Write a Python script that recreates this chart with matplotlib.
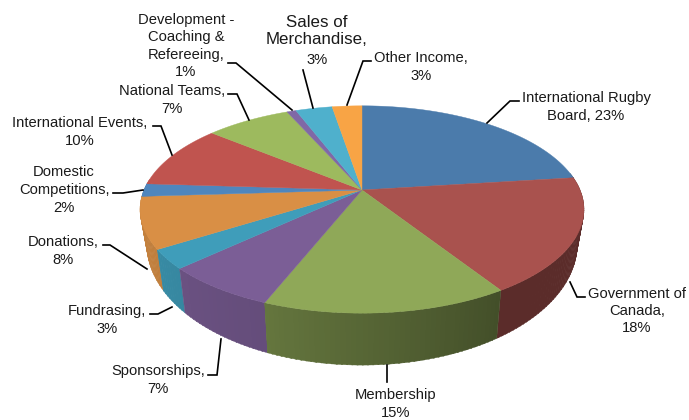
import numpy as np
import matplotlib
matplotlib.use('Agg')
import matplotlib.pyplot as plt
from matplotlib.patches import Polygon

plt.rcParams['font.family'] = ['Liberation Sans', 'DejaVu Sans']

categories = ['International Rugby\nBoard', 'Government of\nCanada', 'Membership', 'Sponsorships',
              'Fundrasing', 'Donations', 'Domestic\nCompetitions', 'International Events',
              'National Teams', 'Development -\nCoaching &\nRefereeing', 'Sales of\nMerchandise',
              'Other Income']
values = [23, 18, 15, 7, 3, 8, 2, 10, 7.4, 0.8, 3.2, 2.6]
colors = ['#4b7bab', '#a9524e', '#8fa858', '#7b5e96', '#3f9dba', '#d98f45',
          '#4f86bd', '#c0544f', '#9dba5e', '#8068a6', '#4fb0cc', '#f8a445']

# pixel positions of label centres
label_pos = [(586, 107), (637, 311), (396, 404), (158, 380), (107, 320), (63, 251),
             (64, 190), (80, 132), (172, 100), (186, 46), (317, 31), (421, 67)]
# leader lines
leaders = [[(487, 123), (510, 101), (519, 101)],
           [(570, 282), (577, 297), (585, 297)],
           [(387, 365), (387, 382)],
           [(221, 339), (217, 375), (208, 375)],
           [(172, 307), (158, 314), (150, 314)],
           [(147, 269), (110, 245), (103, 245)],
           [(143, 190), (123, 193), (113, 193)],
           [(172, 155), (161, 126), (153, 126)],
           [(249, 120), (237, 94), (228, 94)],
           [(292, 110), (236, 63), (228, 63)],
           [(313, 108), (303, 70)],
           [(347, 105), (363, 61), (371, 61)]]

cx, cy = 362, 190
a, b, k = 218, 100, 0.188


# circle seen in perspective, so the centre sits above the middle of the ellipse
def rim(t):
    u, v = np.sin(t), -np.cos(t)
    d = 1 - k * v
    return a * u / d, b * v / d


def top_xy(t):
    x, y = rim(t)
    return cx + x, cy + y


def low_xy(t):
    x, y = rim(t)
    return cx + 0.97 * x, cy + 1.17 * y + 31


fig = plt.figure(figsize=(6.89, 4.2), dpi=100)
ax = fig.add_axes([0, 0, 1, 1])
ax.set_xlim(0, 689)
ax.set_ylim(420, 0)
ax.axis('off')

edges = np.cumsum([0] + values) / sum(values) * 2 * np.pi

# side of the pie, back to front, darker on the right
strips = []
for i in range(len(values)):
    ts = np.arange(edges[i], edges[i + 1] + 0.01, 0.02)
    for t0 in ts:
        t1 = min(t0 + 0.025, edges[i + 1])
        if t0 < 1.4 or t0 > 4.8 or t0 >= t1:
            continue
        strips.append((-np.cos(t0), t0, t1, i))
strips.sort()
for _, t0, t1, i in strips:
    if i == 1:
        shade = 0.54
    elif i == 2:
        shade = 0.47 + 0.25 * (t0 - 2.57)
    else:
        shade = 0.82 + 0.1 * (t0 - 3.52)
    col = np.array(matplotlib.colors.to_rgb(colors[i])) * shade
    x0, y0 = top_xy(t0)
    x1, y1 = top_xy(t1)
    x2, y2 = low_xy(t1)
    x3, y3 = low_xy(t0)
    ax.add_patch(Polygon([(x0, y0), (x1, y1), (x2, y2), (x3, y3)], fc=col, ec=col, lw=0.3))

# top face
for i in range(len(values)):
    t = np.linspace(edges[i], edges[i + 1], 80)
    x, y = top_xy(t)
    pts = [(cx, cy)] + list(zip(x, y))
    ax.add_patch(Polygon(pts, fc=colors[i], ec=colors[i], lw=0.3))

for i, name in enumerate(categories):
    pct = str(int(round(values[i]))) + '%'
    xs, ys = zip(*leaders[i])
    ax.plot(xs, ys, color='black', lw=1.2, solid_joinstyle='miter')
    # this label has a bigger name than its percentage in the original
    if name.startswith('Sales'):
        ax.text(label_pos[i][0], label_pos[i][1], name + ',', ha='center', va='center', fontsize=12.2,
                color='#1a1a1a', linespacing=1.2)
        ax.text(label_pos[i][0], label_pos[i][1] + 29, pct, ha='center', va='center', fontsize=10.6,
                color='#1a1a1a')
        continue
    sep = '\n' if name == 'Membership' else ' ' if name.endswith('Board') else '\n'
    txt = name + ('' if name == 'Membership' else ',') + sep + pct
    spacing = 1.3 if name.count('\n') > 0 and not name.startswith('Domestic') else 1.37
    ax.text(label_pos[i][0], label_pos[i][1], txt, ha='center', va='center', fontsize=10.6,
            color='#1a1a1a', linespacing=spacing)

fig.savefig('out.png', dpi=100)
